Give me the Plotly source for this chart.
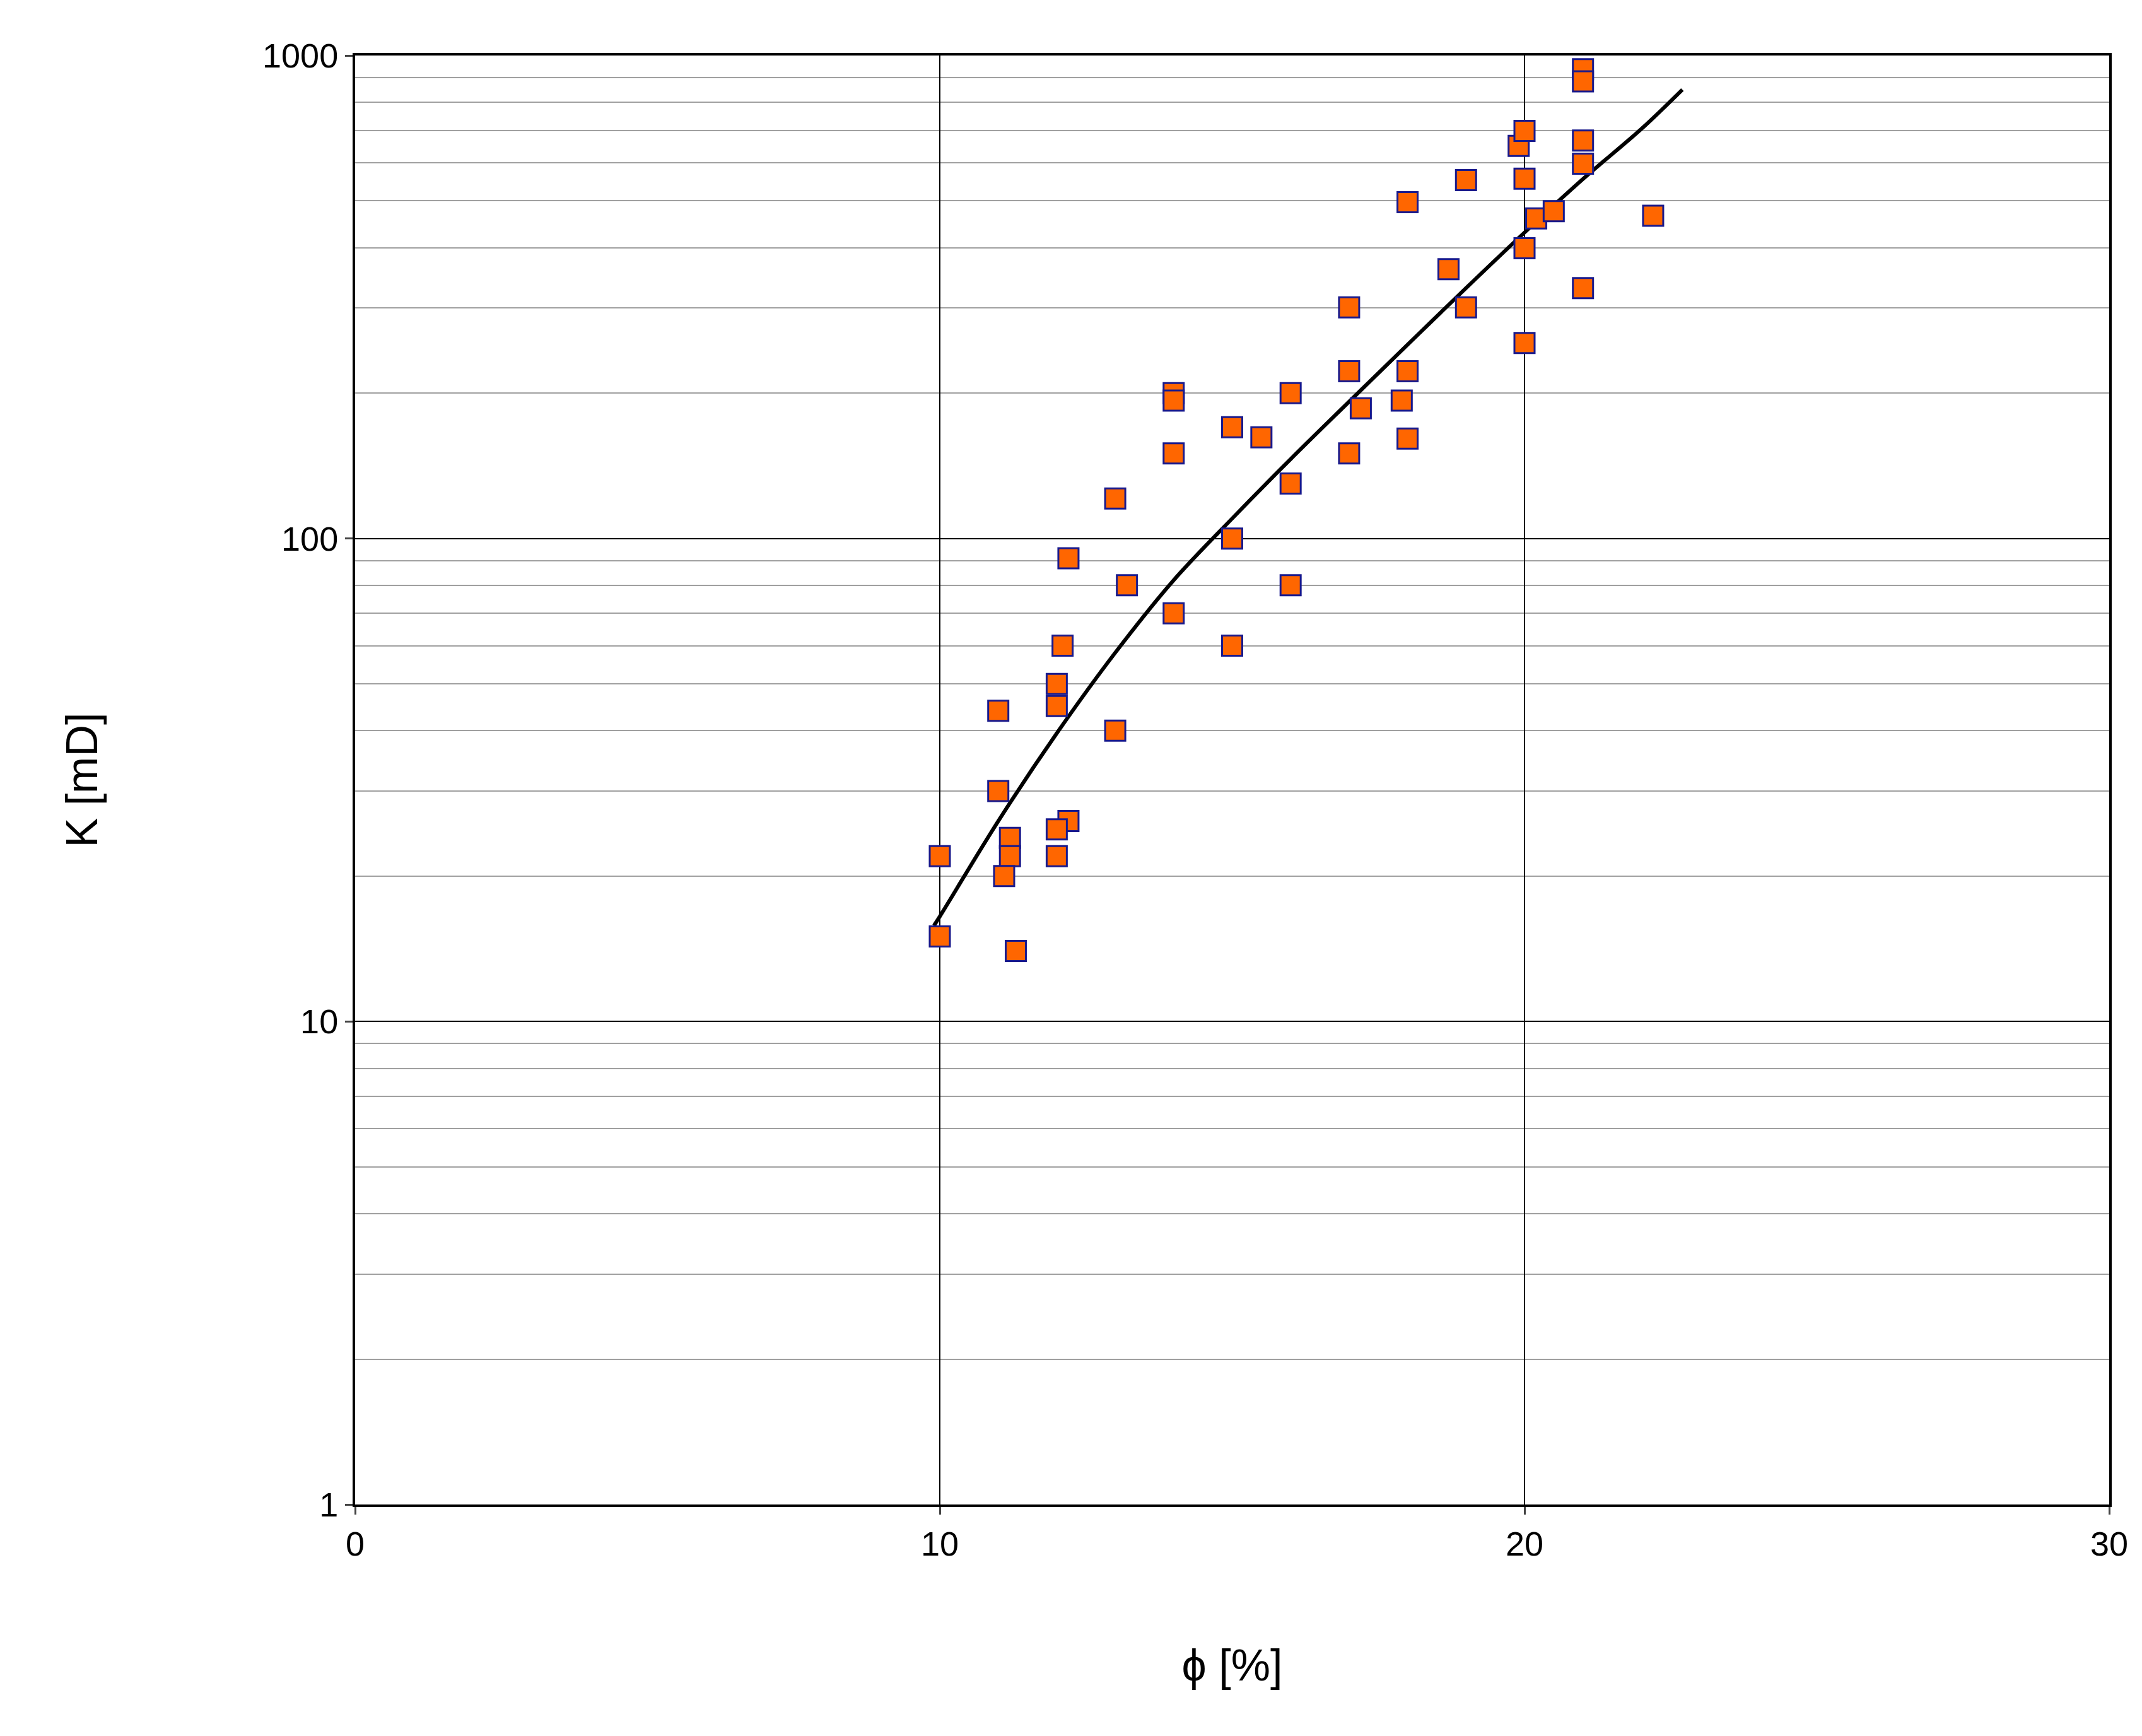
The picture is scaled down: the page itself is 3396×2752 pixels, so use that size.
import plotly.graph_objects as go

phi = [10,10,11,11,11.2,11.2,11.1,11.3,12,12,12.1,12.2,12.2,12,12,13,13.2,13,14,14,14,14,15,15.5,15,15,16,16,16,17,17,17.2,17,18,18,17.9,18,18.7,19,19,19.9,20,20,20.2,20.5,20,20,21,21,21,21,21,22.2]
perm = [22,15,44,30,24,22,20,14,50,45,60,91,26,25,22,121,80,40,200,193,150,70,170,162,100,60,200,130,80,301,222,186,150,497,222,193,161,361,552,301,650,698,556,460,476,399,254,937,884,667,597,330,466]

trend_phi = [9.9,10,11,12,13,14,15,16,17,18,19,20,21,22,22.7]
trend_k = [15.8,16.5,26,39.5,58,82,110,146,192,252,330,430,555,705,850]

minor_vals = [m*10**d for d in range(0,3) for m in range(2,10)]

fig = go.Figure()
fig.add_trace(go.Scatter(x=trend_phi, y=trend_k, mode="lines", line=dict(color="black", width=6, shape="spline", smoothing=1.0), showlegend=False))
fig.add_trace(go.Scatter(x=phi, y=perm, mode="markers",
    marker=dict(symbol="square", size=32, color="#FF6600", line=dict(color="#1a1a8c", width=3)), showlegend=False))

fig.update_layout(
    width=3396, height=2752, plot_bgcolor="white", paper_bgcolor="white",
    margin=dict(l=555, r=60, t=80, b=375),
    font=dict(family="Liberation Sans, Arial", size=54, color="black"),
    xaxis=dict(range=[0,30], tickvals=[0,10,20,30], showgrid=True, gridcolor="black", gridwidth=2,
               showline=True, linecolor="black", linewidth=4, mirror=True, ticks="outside", ticklen=12, tickwidth=3,
               zeroline=False, title=dict(text="ϕ [%]", font=dict(size=70), standoff=140)),
    yaxis=dict(type="log", range=[0,3], tickvals=[1,10,100,1000], ticktext=["1","10","100","1000"],
               showgrid=True, gridcolor="black", gridwidth=2,
               showline=True, linecolor="black", linewidth=4, mirror=True, ticks="outside", ticklen=12, tickwidth=3,
               minor=dict(tickvals=minor_vals, showgrid=True, gridcolor="#a0a0a0", gridwidth=2, ticks=""),
               title=dict(text="K [mD]", font=dict(size=70), standoff=240)),
)
fig.write_html("out.html")
